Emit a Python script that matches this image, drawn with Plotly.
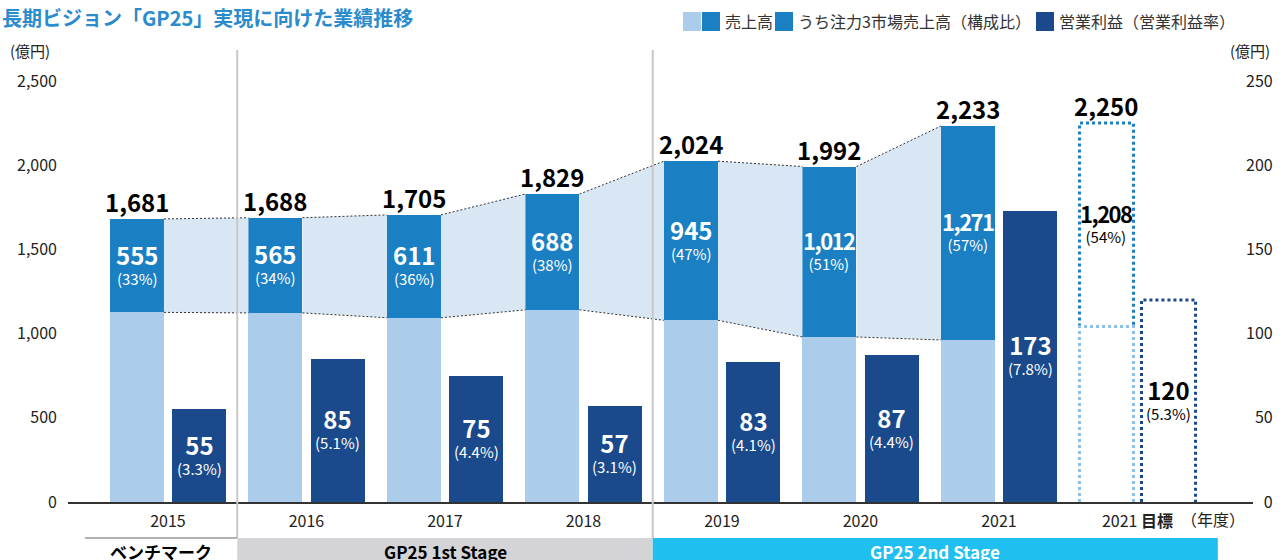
import plotly.graph_objects as go

# ---- data (億円) ----
years = ["2015", "2016", "2017", "2018", "2019", "2020", "2021"]
sales = [1681, 1688, 1705, 1829, 2024, 1992, 2233]
focus_sales = [555, 565, 611, 688, 945, 1012, 1271]
focus_share = [33, 34, 36, 38, 47, 51, 57]          # %
op_profit = [55, 85, 75, 57, 83, 87, 173]
op_margin = [3.3, 5.1, 4.4, 3.1, 4.1, 4.4, 7.8]     # %

target_year_label = "2021 <b>目標</b>"
target_sales = 2250
target_focus = 1208
target_focus_share = 54
target_profit = 120
target_margin = 5.3

left_ticks = [0, 500, 1000, 1500, 2000, 2500]
right_ticks = [0, 50, 100, 150, 200, 250]

stage_names = ["ベンチマーク", "GP25 1st Stage", "GP25 2nd Stage"]

# ---- style ----
FONT = "Noto Sans CJK JP"
C_LIGHT = "#abcdeb"
C_MID = "#1b7fc3"
C_NAVY = "#1a4a8b"
C_BAND = "#d9e7f4"
C_TARGET_LOW = "#8fc0ea"
C_TITLE = "#2a8bcd"
C_TEXT = "#222222"

W, H = 1284, 560
PL, PR, PT, PB = 68, 1253, 50, 502          # plot area in px
X_RANGE = [-0.722, 7.834]
PX_PER_UNIT = 0.1684
Y_MAX = (PB - PT) / PX_PER_UNIT
BAR_W = 0.39
OFF = 0.224


def xp(px):
    return (px - PL) / (PR - PL)


def yp(py):
    return (PB - py) / (PB - PT)


def xd2p(x):
    return (x - X_RANGE[0]) / (X_RANGE[1] - X_RANGE[0])


n = len(years)
xs = [i - OFF for i in range(n)]          # sales bar centres
xo = [i + OFF for i in range(n)]          # operating profit bar centres
base = [s - f for s, f in zip(sales, focus_sales)]
t = n                                      # target group position
hw = BAR_W / 2

fig = go.Figure()

# shaded band linking the focus-market segments of neighbouring years
for i in range(n - 1):
    xa, xb = xs[i] + hw, xs[i + 1] - hw
    fig.add_trace(go.Scatter(
        x=[xa, xb, xb, xa, xa],
        y=[sales[i], sales[i + 1], base[i + 1], base[i], sales[i]],
        mode="lines", fill="toself", fillcolor=C_BAND,
        line=dict(width=0), hoverinfo="skip", showlegend=False))

lx, ly = [], []
for i in range(n - 1):
    xa, xb = xs[i] + hw, xs[i + 1] - hw
    lx += [xa, xb, None, xa, xb, None]
    ly += [sales[i], sales[i + 1], None, base[i], base[i + 1], None]
fig.add_trace(go.Scatter(x=lx, y=ly, mode="lines",
                         line=dict(color="#333333", width=1, dash="2px,2px"),
                         hoverinfo="skip", showlegend=False))

# sales bars: other sales + focus markets on top
fig.add_trace(go.Bar(x=xs, y=base, width=BAR_W, marker=dict(color=C_LIGHT, line=dict(width=0)),
                     showlegend=False))
fig.add_trace(go.Bar(x=xs, y=focus_sales, base=base, width=BAR_W,
                     marker=dict(color=C_MID, line=dict(width=0)), showlegend=False))

# operating profit bars on the right axis
fig.add_trace(go.Bar(x=xo, y=op_profit, width=BAR_W, yaxis="y2",
                     marker=dict(color=C_NAVY, line=dict(width=0)), showlegend=False))

# target outlines (dotted)
tb = target_sales - target_focus
ta, tz = t - OFF - hw, t - OFF + hw
fig.add_trace(go.Scatter(x=[ta, ta, tz, tz], y=[tb, target_sales, target_sales, tb],
                         mode="lines", line=dict(color=C_MID, width=3, dash="dot"),
                         hoverinfo="skip", showlegend=False))
fig.add_trace(go.Scatter(x=[ta, ta, tz, tz], y=[0, tb, tb, 0],
                         mode="lines", line=dict(color=C_TARGET_LOW, width=3, dash="dot"),
                         hoverinfo="skip", showlegend=False))
pa, pz = t + OFF - hw, t + OFF + hw
fig.add_trace(go.Scatter(x=[pa, pa, pz, pz], y=[0, target_profit, target_profit, 0],
                         yaxis="y2", mode="lines", line=dict(color=C_NAVY, width=3, dash="dot"),
                         hoverinfo="skip", showlegend=False))

ann = []


def total_label(value, x):
    ann.append(dict(x=x, y=value, xref="x", yref="y", text=f"<b>{value:,}</b>", showarrow=False,
                    font=dict(family=FONT, size=24, color="#000000"), yanchor="bottom", yshift=-2))


def two_line(number, pct, x, y, color, yref="y"):
    # number on the first line, share / margin on the second
    if number >= 1000:
        style = "font-size:22px;letter-spacing:-1.5px"
    else:
        style = "font-size:24px"
    text = f"<span style='{style}'><b>{number:,}</b></span><br>({pct}%)"
    ann.append(dict(x=x, y=y, xref="x", yref=yref, text=text, showarrow=False,
                    font=dict(family=FONT, size=15, color=color), yanchor="middle",
                    align="center", yshift=3))


for i in range(n):
    total_label(sales[i], xs[i])
    two_line(focus_sales[i], focus_share[i], xs[i], base[i] + focus_sales[i] / 2, "#ffffff")
    two_line(op_profit[i], op_margin[i], xo[i], op_profit[i] / 2, "#ffffff", yref="y2")

total_label(target_sales, t - OFF)
two_line(target_focus, target_focus_share, t - OFF, tb + target_focus / 2, "#000000")
two_line(target_profit, target_margin, t + OFF, target_profit / 2, "#000000", yref="y2")

# title
ann.append(dict(x=xp(0), y=yp(17), xref="paper", yref="paper", xanchor="left", yanchor="middle",
                text="<b>長期ビジョン「GP25」実現に向けた業績推移</b>", showarrow=False,
                font=dict(family=FONT, size=20, color=C_TITLE)))

# unit labels
ann.append(dict(x=xp(8), y=yp(50), xref="paper", yref="paper", xanchor="left", yanchor="middle",
                text="(億円)", showarrow=False, font=dict(family=FONT, size=15, color=C_TEXT)))
ann.append(dict(x=xp(1228), y=yp(50), xref="paper", yref="paper", xanchor="left", yanchor="middle",
                text="(億円)", showarrow=False, font=dict(family=FONT, size=15, color=C_TEXT)))
ann.append(dict(x=7.545, y=yp(519), xref="x", yref="paper", xanchor="center", yanchor="middle",
                text="（年度）", showarrow=False, font=dict(family=FONT, size=16, color=C_TEXT)))

# legend
shapes = []
legend_items = [
    ([C_LIGHT, C_MID], 683, "売上高"),
    ([C_MID], 775, "うち注力3市場売上高（構成比）"),
    ([C_NAVY], 1036, "営業利益（営業利益率）"),
]
for cols, x0, label in legend_items:
    for k, c in enumerate(cols):
        shapes.append(dict(type="rect", xref="paper", yref="paper",
                           x0=xp(x0 + 19 * k), x1=xp(x0 + 19 * k + 18), y0=yp(31), y1=yp(12),
                           fillcolor=c, line=dict(width=0)))
    ann.append(dict(x=xp(x0 + 19 * len(cols) + 2), y=yp(21), xref="paper", yref="paper",
                    xanchor="left", yanchor="middle", text=label, showarrow=False,
                    font=dict(family=FONT, size=16, color="#333333")))

# stage separators and bands
for xv in (0.5, 3.5):
    shapes.append(dict(type="line", xref="paper", yref="paper", x0=xd2p(xv), x1=xd2p(xv),
                       y0=yp(50), y1=yp(538), line=dict(color="#c8c8c8", width=2)))

bands = [(-0.6, 0.5, None, "#000000"), (0.5, 3.5, "#d4d4d6", "#000000"),
         (3.5, 7.58, "#1fc0ef", "#ffffff")]
for (x0, x1, fillc, tc), name in zip(bands, stage_names):
    if fillc:
        shapes.append(dict(type="rect", xref="paper", yref="paper", x0=xd2p(x0), x1=xd2p(x1),
                           y0=yp(570), y1=yp(538), fillcolor=fillc, line=dict(width=0)))
    else:
        shapes.append(dict(type="line", xref="paper", yref="paper", x0=xd2p(x0), x1=xd2p(x1),
                           y0=yp(538), y1=yp(538), line=dict(color="#999999", width=1.5)))
    ann.append(dict(x=(x0 + x1) / 2, y=yp(551), xref="x", yref="paper", xanchor="center",
                    yanchor="middle", text=f"<b>{name}</b>", showarrow=False,
                    font=dict(family=FONT, size=17, color=tc)))

FS = "\u2007"
fig.update_layout(
    width=W, height=H,
    margin=dict(l=PL, r=W - PR, t=PT, b=H - PB, pad=0),
    paper_bgcolor="white", plot_bgcolor="white",
    barmode="overlay", bargap=0, hovermode=False,
    font=dict(family=FONT, size=16, color=C_TEXT),
    xaxis=dict(range=X_RANGE, tickvals=list(range(n + 1)), ticktext=years + [target_year_label],
               showline=True, linecolor="#333333", linewidth=1.5, ticks="", showgrid=False,
               zeroline=False, tickfont=dict(family=FONT, size=16, color=C_TEXT),
               ticklabelstandoff=4, fixedrange=True),
    yaxis=dict(range=[0, Y_MAX], tickvals=left_ticks, ticktext=[f"{v:,}" for v in left_ticks],
               showgrid=False, zeroline=False, showline=False, ticks="",
               tickfont=dict(family=FONT, size=16, color=C_TEXT), ticklabelstandoff=10),
    yaxis2=dict(range=[0, Y_MAX / 10], overlaying="y", side="right", tickvals=right_ticks,
                ticktext=[FS * (3 - len(str(v))) + str(v) for v in right_ticks],
                showgrid=False, zeroline=False, showline=False, ticks="",
                tickfont=dict(family=FONT, size=16, color=C_TEXT), ticklabelstandoff=-8),
    annotations=ann, shapes=shapes,
)

fig.write_html("out.html")
